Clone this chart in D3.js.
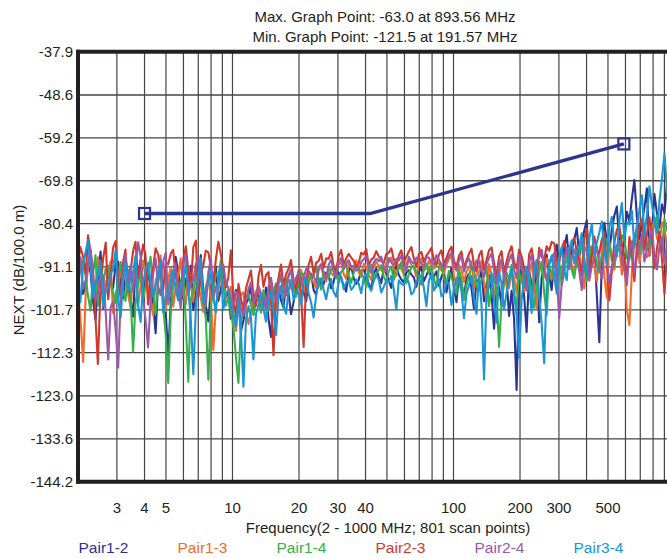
<!DOCTYPE html>
<html>
<head>
<meta charset="utf-8">
<script src="https://d3js.org/d3.v7.min.js"></script>
<style>
  html, body { margin: 0; padding: 0; background: #fff; }
  svg { display: block; font-family: "Liberation Sans", Arial, sans-serif; }
</style>
</head>
<body>
<svg id="chart" width="667" height="558"></svg>
<script>
// scan frequencies (MHz)
var freqMHz = [
  2.00, 2.05, 2.11, 2.17, 2.22, 2.28, 2.34, 2.40, 2.46, 2.53, 2.60, 2.67, 2.74, 2.81, 2.88, 2.96, 3.04, 3.12, 3.20, 3.28,
  3.37, 3.46, 3.55, 3.64, 3.74, 3.84, 3.94, 4.04, 4.15, 4.26, 4.38, 4.49, 4.61, 4.73, 4.86, 4.99, 5.12, 5.26, 5.39, 5.53,
  5.68, 5.83, 5.99, 6.15, 6.31, 6.48, 6.65, 6.83, 7.00, 7.19, 7.38, 7.57, 7.78, 7.99, 8.19, 8.41, 8.63, 8.86, 9.09, 9.33,
  9.58, 9.83, 10.10, 10.37, 10.64, 10.92, 11.21, 11.51, 11.81, 12.12, 12.44, 12.77, 13.11, 13.46, 13.81, 14.18, 14.55, 14.94, 15.33, 15.74,
  16.15, 16.58, 17.02, 17.47, 17.93, 18.40, 18.90, 19.40, 19.91, 20.44, 20.98, 21.54, 22.10, 22.68, 23.29, 23.91, 24.53, 25.18, 25.85, 26.53,
  27.23, 27.95, 28.69, 29.45, 30.23, 31.03, 31.85, 32.69, 33.56, 34.45, 35.36, 36.30, 37.25, 38.24, 39.25, 40.29, 41.35, 42.44, 43.57, 44.72,
  45.91, 47.12, 48.37, 49.65, 50.96, 52.31, 53.70, 55.12, 56.58, 58.08, 59.61, 61.19, 62.81, 64.47, 66.17, 67.92, 69.72, 71.56, 73.46, 75.40,
  77.40, 79.45, 81.55, 83.71, 85.92, 88.19, 90.53, 92.93, 95.38, 97.90, 100.47, 103.13, 105.86, 108.66, 111.53, 114.48, 117.51, 120.62, 123.81, 127.09,
  130.45, 133.90, 137.45, 141.09, 144.82, 148.65, 152.58, 156.62, 160.76, 165.01, 169.38, 173.86, 178.47, 183.19, 188.04, 193.02, 198.12, 203.36, 208.74, 214.26,
  219.94, 225.76, 231.73, 237.86, 244.16, 250.62, 257.25, 264.06, 271.04, 278.21, 285.58, 293.14, 300.89, 308.85, 317.02, 325.41, 334.02, 342.86, 351.93, 361.24,
  370.7, 380.5, 390.6, 400.9, 411.5, 422.4, 433.6, 445.1, 456.9, 469.0, 481.4, 494.1, 507.2, 520.6, 534.4, 548.5, 563.0, 577.9, 593.2, 608.9,
  625.0, 641.5, 658.5, 675.9, 693.8, 712.2, 731.0, 750.3, 770.2, 790.6, 811.5, 833.0, 855.1, 877.7, 901.0, 924.8, 949.2, 974.3, 1000.0
];

var pair12 = [
  -93.5, -88.9, -97.8, -95.1, -90.2, -92.6, -99.6, -104.2, -94.1, -87.3, -101.3, -96.0, -92.7, -94.8, -96.4, -90.5, -89.8, -95.7, -98.9, -93.2,
  -95.2, -99.0, -103.4, -91.8, -93.0, -89.4, -97.7, -93.6, -91.6, -96.9, -100.2, -107.5, -94.8, -90.7, -98.3, -102.6, -113.0, -99.4, -95.5, -88.6,
  -92.4, -96.3, -99.1, -94.0, -96.0, -90.8, -101.8, -97.5, -93.7, -88.2, -97.2, -100.6, -104.6, -95.9, -94.3, -91.0, -99.5, -96.7, -92.9, -98.4,
  -97.6, -103.9, -101.5, -96.8, -98.2, -107.1, -104.3, -100.2, -99.0, -95.6, -102.7, -98.6, -97.4, -101.9, -100.9, -96.2, -103.8, -108.4, -98.1, -95.3,
  -96.7, -99.3, -101.2, -94.9, -97.5, -102.8, -99.8, -96.1, -95.9, -93.2, -97.3, -99.6, -94.6, -92.8, -96.8, -98.0, -93.9, -95.7, -95.4, -92.5,
  -93.1, -96.4, -94.8, -91.9, -92.6, -94.0, -95.7, -97.2, -92.2, -90.9, -93.9, -95.3, -94.3, -92.0, -91.8, -93.4, -95.2, -96.6, -92.7, -91.5,
  -93.6, -95.1, -91.4, -92.8, -94.5, -96.3, -92.3, -90.8, -93.1, -94.2, -95.0, -92.5, -91.9, -93.0, -93.7, -96.0, -92.4, -91.1, -94.6, -93.2,
  -91.7, -94.0, -93.5, -92.2, -95.8, -93.6, -92.1, -97.4, -94.4, -91.3, -96.2, -99.8, -93.3, -95.1, -98.7, -93.9, -92.8, -96.4, -101.5, -94.5,
  -94.2, -92.0, -99.6, -95.3, -93.1, -97.8, -106.4, -96.5, -95.8, -100.9, -92.6, -94.1, -103.2, -97.0, -104.0, -121.5, -94.7, -91.6, -98.3, -107.2,
  -92.1, -95.4, -96.9, -90.2, -104.8, -93.7, -90.5, -88.1, -93.4, -96.8, -88.7, -85.6, -91.2, -94.0, -86.4, -83.2, -89.9, -87.0, -84.3, -81.5,
  -88.6, -85.0, -82.1, -79.6, -92.7, -88.4, -86.5, -98.0, -109.7, -90.3, -80.2, -84.7, -87.3, -81.9, -78.4, -76.2, -85.6, -90.8, -83.1, -77.5,
  -79.8, -74.3, -69.6, -78.8, -84.2, -80.1, -76.5, -71.7, -88.3, -82.0, -73.1, -78.0, -81.4, -75.6, -77.9, -70.4, -72.6, -76.9, -80.5
];
var pair13 = [
  -96.8, -103.5, -114.6, -97.0, -91.2, -86.9, -94.6, -98.2, -88.7, -92.4, -99.3, -95.0, -93.1, -89.7, -102.4, -97.6, -95.7, -91.9, -90.3, -94.3,
  -97.9, -101.2, -93.4, -90.0, -100.6, -95.8, -89.5, -93.1, -96.2, -99.0, -103.1, -94.4, -92.8, -88.3, -98.6, -102.0, -94.0, -91.3, -100.9, -96.5,
  -93.3, -89.0, -97.5, -100.3, -91.0, -94.9, -99.7, -92.1, -95.4, -98.8, -102.2, -96.0, -93.8, -99.3, -111.6, -101.0, -97.1, -93.0, -94.5, -98.1,
  -99.2, -96.0, -103.6, -106.9, -100.1, -98.0, -97.4, -101.8, -105.2, -102.5, -99.8, -97.1, -96.5, -99.9, -101.3, -104.1, -97.9, -95.6, -99.4, -101.9,
  -95.6, -97.4, -98.7, -93.9, -94.2, -96.5, -97.0, -95.2, -93.5, -91.8, -95.8, -97.6, -92.7, -93.9, -94.9, -96.3, -92.0, -90.9, -93.6, -94.7,
  -91.4, -92.6, -93.2, -90.8, -90.6, -89.7, -92.9, -94.0, -90.1, -91.3, -91.8, -89.5, -92.5, -93.6, -90.3, -91.0, -93.0, -94.3, -91.1, -89.9,
  -90.8, -91.9, -92.4, -90.1, -89.9, -88.8, -91.6, -93.2, -90.5, -91.7, -92.8, -90.0, -89.4, -90.6, -91.3, -93.5, -90.2, -89.0, -92.0, -91.4,
  -89.6, -90.9, -91.5, -89.8, -90.3, -92.0, -92.7, -90.5, -89.1, -88.4, -93.4, -95.7, -90.6, -91.9, -94.8, -92.2, -91.2, -89.7, -96.5, -93.1,
  -92.3, -89.6, -95.1, -99.8, -90.4, -92.9, -98.7, -94.6, -93.0, -90.1, -91.5, -95.9, -96.3, -92.0, -93.8, -97.6, -90.9, -89.2, -97.2, -94.0,
  -92.6, -90.0, -95.4, -101.5, -89.8, -91.6, -93.7, -88.9, -91.0, -94.2, -87.9, -90.5, -94.6, -92.0, -89.3, -86.8, -86.5, -90.7, -92.8, -88.2,
  -88.1, -92.5, -96.4, -89.0, -85.7, -87.9, -90.2, -94.8, -87.4, -84.6, -93.5, -98.7, -84.9, -88.3, -91.8, -86.0, -86.2, -93.0, -89.4, -101.8,
  -105.5, -92.4, -84.6, -80.8, -90.1, -86.2, -82.3, -88.7, -87.8, -81.4, -79.5, -84.0, -85.2, -80.1, -81.7, -86.5, -76.8, -79.9, -83.4
];
var pair14 = [
  -94.1, -91.0, -89.6, -93.8, -98.3, -101.9, -92.5, -88.2, -100.7, -97.3, -95.2, -91.5, -90.8, -94.4, -97.4, -100.1, -93.6, -89.9, -96.9, -99.5,
  -91.8, -98.4, -112.0, -100.5, -95.5, -92.1, -99.2, -96.0, -92.4, -88.6, -97.8, -102.7, -94.3, -91.2, -101.0, -108.0, -119.8, -102.3, -95.0, -91.4,
  -98.5, -94.7, -93.0, -104.8, -119.5, -99.2, -96.6, -93.3, -91.7, -95.1, -99.9, -103.6, -119.0, -100.4, -97.3, -92.8, -93.4, -89.5, -95.8, -100.7,
  -98.7, -102.0, -106.1, -113.5, -119.8, -104.9, -101.4, -98.8, -97.6, -100.5, -103.0, -99.0, -99.5, -102.4, -96.8, -99.7, -101.9, -97.2, -98.0, -95.3,
  -95.3, -93.8, -97.9, -95.0, -93.6, -91.9, -96.4, -98.5, -94.8, -92.6, -92.9, -95.7, -95.1, -93.0, -93.3, -91.2, -94.5, -96.7, -92.4, -93.5,
  -93.8, -91.6, -92.1, -93.9, -94.0, -92.3, -91.7, -90.4, -93.2, -95.0, -92.6, -90.9, -91.4, -92.8, -93.7, -96.1, -92.0, -90.6, -94.1, -92.7,
  -91.9, -90.7, -93.5, -94.8, -92.2, -91.0, -94.3, -92.6, -91.6, -89.9, -93.0, -95.2, -92.8, -91.3, -90.9, -92.4, -93.6, -95.5, -91.5, -90.3,
  -92.7, -91.1, -94.0, -96.2, -91.3, -90.2, -93.8, -95.0, -92.1, -93.7, -95.5, -97.9, -91.8, -94.3, -99.3, -95.6, -93.4, -90.8, -92.0, -96.0,
  -96.8, -94.2, -93.5, -91.0, -100.8, -96.4, -92.9, -98.1, -110.9, -99.7, -95.4, -92.5, -94.1, -90.6, -97.6, -101.3, -92.3, -94.8, -95.9, -91.7,
  -93.0, -97.4, -101.2, -95.5, -92.4, -89.8, -97.5, -103.0, -90.8, -92.7, -94.3, -91.0, -89.7, -95.8, -92.6, -88.5, -88.1, -91.9, -93.9, -89.4,
  -87.6, -85.2, -91.4, -94.6, -89.2, -86.0, -86.9, -90.3, -92.5, -87.8, -88.0, -84.1, -85.3, -89.6, -90.7, -86.4, -87.1, -83.3, -84.5, -88.9,
  -89.3, -85.7, -83.6, -81.9, -87.9, -84.3, -81.2, -85.5, -86.4, -82.6, -80.7, -78.4, -84.8, -87.2, -79.3, -82.1, -83.0, -80.2, -78.6
];
var pair23 = [
  -90.5, -86.2, -88.6, -92.9, -83.3, -87.5, -92.3, -103.8, -115.1, -96.0, -88.9, -85.1, -99.1, -93.4, -86.4, -84.7, -94.7, -98.6, -89.9, -86.8,
  -97.3, -92.0, -87.2, -84.9, -93.8, -89.6, -85.6, -88.1, -100.4, -95.2, -91.1, -86.5, -88.0, -92.7, -96.7, -90.0, -90.4, -87.8, -86.9, -93.5,
  -94.9, -99.8, -89.3, -86.0, -92.0, -96.1, -86.2, -84.6, -98.4, -93.0, -90.7, -87.1, -87.5, -91.4, -95.3, -89.2, -84.9, -88.0, -91.6, -96.2,
  -93.7, -87.0, -98.9, -103.5, -95.3, -99.0, -101.6, -96.4, -94.2, -92.0, -97.8, -100.7, -93.5, -90.6, -96.0, -93.1, -92.4, -99.6, -112.9, -97.2,
  -93.8, -90.5, -95.7, -92.9, -91.6, -89.4, -94.4, -96.8, -92.0, -97.5, -110.9, -95.0, -90.7, -88.6, -92.8, -90.1, -89.6, -87.9, -91.3, -89.0,
  -89.1, -87.4, -90.9, -92.1, -88.3, -86.9, -90.4, -89.0, -87.9, -88.8, -89.6, -91.2, -90.2, -87.6, -88.0, -86.7, -90.7, -89.3, -88.8, -87.2,
  -88.5, -89.7, -90.1, -87.9, -87.6, -86.5, -89.3, -90.8, -88.2, -87.0, -90.0, -88.6, -87.3, -86.2, -89.1, -91.0, -88.0, -87.4, -89.8, -88.3,
  -87.5, -86.4, -89.4, -90.6, -88.1, -87.0, -90.3, -88.9, -87.2, -86.1, -89.6, -91.0, -88.4, -87.3, -91.2, -89.5, -87.9, -86.6, -90.5, -92.3,
  -88.3, -87.1, -91.7, -89.4, -87.0, -86.3, -90.1, -93.5, -88.6, -87.2, -92.4, -89.8, -87.5, -86.0, -89.9, -91.6, -86.8, -88.5, -91.3, -96.2,
  -88.0, -86.5, -90.6, -94.1, -86.4, -88.7, -89.2, -86.0, -87.1, -84.9, -85.3, -89.4, -90.0, -86.6, -84.7, -87.8, -88.6, -85.2, -83.9, -87.4,
  -89.5, -93.2, -84.2, -81.6, -91.8, -88.0, -83.6, -86.9, -87.7, -84.4, -82.5, -90.6, -99.4, -92.3, -85.1, -81.9, -80.9, -85.7, -88.3, -94.1,
  -83.7, -88.2, -94.6, -86.0, -81.2, -79.4, -86.8, -83.0, -78.9, -84.5, -91.5, -86.6, -82.4, -89.3, -97.8, -88.0, -80.3, -76.5, -85.6
];
var pair24 = [
  -92.8, -88.7, -96.5, -94.2, -90.4, -86.8, -93.1, -99.3, -97.9, -92.0, -93.4, -102.5, -114.0, -101.1, -99.7, -106.5, -116.0, -98.4, -91.5, -88.1,
  -94.6, -90.8, -97.2, -91.4, -85.0, -88.5, -98.8, -104.0, -111.0, -99.5, -92.7, -89.0, -95.9, -98.1, -89.8, -87.6, -100.3, -96.2, -93.2, -90.2,
  -96.8, -101.4, -90.9, -87.9, -98.1, -95.0, -94.5, -90.3, -89.2, -93.7, -97.6, -100.8, -92.4, -88.9, -99.0, -96.1, -95.1, -91.8, -90.6, -94.9,
  -96.4, -99.2, -100.7, -97.3, -97.9, -101.4, -103.2, -99.5, -96.6, -94.9, -100.1, -98.3, -95.8, -97.7, -98.7, -101.6, -96.0, -93.8, -97.5, -99.6,
  -94.7, -92.9, -96.8, -98.2, -93.1, -91.7, -95.5, -93.8, -92.6, -94.9, -94.0, -91.6, -91.9, -93.2, -93.4, -95.0, -91.2, -90.4, -92.5, -94.1,
  -90.6, -89.3, -92.2, -93.4, -89.8, -88.9, -91.5, -90.2, -89.4, -91.1, -90.8, -92.0, -91.7, -89.9, -89.2, -88.4, -91.3, -92.6, -90.0, -89.1,
  -89.7, -88.6, -91.2, -92.3, -88.9, -90.0, -90.6, -89.1, -89.5, -88.3, -91.0, -92.1, -88.6, -89.8, -90.3, -88.8, -89.1, -90.5, -90.9, -88.7,
  -88.8, -89.9, -90.5, -88.2, -89.3, -90.7, -91.4, -89.6, -88.5, -87.6, -90.9, -92.0, -89.6, -88.4, -92.3, -90.1, -89.0, -91.2, -91.8, -89.5,
  -89.7, -91.9, -93.5, -90.4, -88.9, -87.8, -92.0, -95.4, -90.6, -89.2, -94.3, -91.5, -89.4, -88.0, -91.8, -93.9, -88.2, -90.6, -93.6, -97.0,
  -89.9, -88.1, -92.8, -90.2, -88.6, -86.9, -91.3, -94.6, -90.0, -88.7, -87.7, -93.0, -103.8, -95.1, -88.9, -86.4, -91.6, -89.0, -86.8, -88.9,
  -92.1, -96.8, -87.4, -85.9, -94.5, -90.9, -88.8, -86.0, -90.7, -93.8, -86.3, -89.4, -95.2, -91.0, -89.1, -85.8, -84.7, -88.5, -91.9, -95.6,
  -87.0, -84.8, -92.6, -88.7, -85.5, -83.2, -89.8, -86.9, -83.9, -81.6, -88.4, -91.7, -86.1, -83.8, -90.2, -85.4, -82.7, -80.9, -87.5
];
var pair34 = [
  -95.5, -99.8, -90.7, -87.1, -84.6, -91.3, -98.4, -95.0, -93.2, -89.5, -101.0, -97.2, -96.3, -92.8, -91.9, -86.9, -99.1, -103.5, -94.4, -90.0,
  -97.0, -93.6, -92.6, -88.4, -100.5, -104.7, -95.3, -92.0, -90.1, -94.9, -98.2, -95.6, -93.7, -89.3, -102.4, -99.0, -97.5, -93.4, -91.8, -96.5,
  -99.4, -95.9, -94.6, -90.6, -96.9, -104.3, -117.6, -101.2, -92.5, -89.0, -100.2, -96.6, -95.0, -91.7, -98.6, -102.3, -94.1, -90.8, -101.7, -97.9,
  -96.8, -100.3, -102.9, -105.8, -99.3, -107.4, -120.7, -104.1, -100.8, -103.6, -114.0, -102.8, -100.4, -97.9, -101.3, -104.6, -99.6, -97.1, -102.1, -107.9,
  -98.4, -95.8, -100.6, -102.7, -96.9, -94.3, -99.2, -97.0, -97.8, -100.4, -95.4, -93.6, -97.6, -99.9, -103.6, -98.2, -95.0, -93.9, -96.7, -99.1,
  -95.8, -94.1, -97.3, -98.5, -94.9, -93.4, -96.6, -95.0, -94.5, -96.8, -96.0, -94.2, -95.2, -97.6, -93.8, -92.9, -95.9, -97.0, -94.6, -93.1,
  -94.2, -97.4, -96.0, -94.5, -94.8, -93.3, -96.7, -101.6, -94.4, -95.3, -95.6, -93.8, -95.0, -97.9, -97.2, -94.7, -94.0, -93.1, -96.3, -100.8,
  -94.5, -93.0, -96.9, -95.7, -94.1, -98.4, -97.6, -94.8, -95.3, -100.5, -96.5, -93.9, -94.2, -97.1, -103.8, -97.8, -95.6, -93.3, -99.1, -102.7,
  -93.2, -100.6, -118.9, -98.0, -95.8, -92.7, -99.5, -104.9, -92.4, -95.3, -101.7, -97.4, -94.6, -91.8, -97.9, -103.0, -113.6, -99.2, -93.8, -91.1,
  -96.1, -102.5, -91.5, -89.4, -98.4, -105.2, -114.9, -96.0, -90.7, -88.3, -93.3, -97.7, -88.5, -86.2, -91.9, -94.4, -86.7, -84.5, -90.2, -87.3,
  -85.9, -82.8, -89.6, -93.1, -84.1, -80.5, -88.0, -85.1, -82.6, -79.9, -86.9, -90.4, -81.3, -78.7, -85.4, -88.6, -79.8, -75.3, -84.2, -80.0,
  -80.6, -77.2, -86.3, -81.8, -76.9, -73.4, -83.5, -78.1, -71.2, -75.8, -79.4, -82.7, -74.8, -69.3, -63.0, -72.5, -77.1, -70.6, -66.5
];

var seriesNames = ["Pair1-2", "Pair1-3", "Pair1-4", "Pair2-3", "Pair2-4", "Pair3-4"];
var seriesValues = [pair12, pair13, pair14, pair23, pair24, pair34];
var seriesColors = ["#2b3590", "#f26a2e", "#36b04a", "#d0382c", "#9b59a8", "#1a96d4"];

// limit line (start and end carry square markers)
var limitFreq = [4, 42, 590];
var limitVal = [-77.9, -77.9, -60.7];

var yTickLabels = ["-37.9", "-48.6", "-59.2", "-69.8", "-80.4", "-91.1",
                   "-101.7", "-112.3", "-123.0", "-133.6", "-144.2"];
var xTickLabels = [3, 4, 5, 10, 20, 30, 40, 100, 200, 300, 500];

var titleLines = ["Max. Graph Point: -63.0 at 893.56 MHz",
                  "Min. Graph Point: -121.5 at 191.57 MHz"];

var svg = d3.select("#chart");

var plotL = 78, plotR = 674.5, plotT = 51.7, plotB = 481.7;

var x = d3.scaleLog().domain([2, 1000]).range([plotL, plotR]);
var y = d3.scaleLinear().domain([-144.2, -37.9]).range([plotB, plotT]);

// titles
svg.selectAll("text.title")
  .data(titleLines)
  .enter().append("text")
  .attr("class", "title")
  .attr("x", 385)
  .attr("y", function(d, i){ return 22 + i * 20; })
  .attr("text-anchor", "middle")
  .attr("font-size", 15)
  .attr("fill", "#231f20")
  .text(function(d){ return d; });

// grid
var grid = svg.append("g");
grid.selectAll("line.v")
  .data(x.ticks().filter(function(d){ return d > 2 && d < 1000; }))
  .enter().append("line")
  .attr("x1", function(d){ return x(d); })
  .attr("x2", function(d){ return x(d); })
  .attr("y1", plotT).attr("y2", plotB)
  .attr("stroke", "#444")
  .attr("stroke-width", 1.2);

grid.selectAll("line.h")
  .data(yTickLabels.slice(1, -1))
  .enter().append("line")
  .attr("x1", plotL).attr("x2", plotR)
  .attr("y1", function(d){ return y(+d); })
  .attr("y2", function(d){ return y(+d); })
  .attr("stroke", "#444")
  .attr("stroke-width", 1.3);

// data
svg.append("clipPath").attr("id", "plotclip")
  .append("rect")
  .attr("x", plotL).attr("y", plotT)
  .attr("width", plotR - plotL).attr("height", plotB - plotT);

var line = d3.line()
  .defined(function(d, i){ return i < freqMHz.length; })
  .x(function(d, i){ return x(freqMHz[i]); })
  .y(function(d){ return y(d); });

svg.append("g").attr("clip-path", "url(#plotclip)")
  .selectAll("path")
  .data(seriesValues)
  .enter().append("path")
  .attr("d", line)
  .attr("fill", "none")
  .attr("stroke", function(d, i){ return seriesColors[i]; })
  .attr("stroke-width", 2.1)
  .attr("stroke-linejoin", "round");

// limit line
var limitLine = d3.line()
  .x(function(d, i){ return x(limitFreq[i]); })
  .y(function(d){ return y(d); });

svg.append("path")
  .attr("d", limitLine(limitVal))
  .attr("fill", "none")
  .attr("stroke", "#2b3590")
  .attr("stroke-width", 3.3);

svg.selectAll("rect.marker")
  .data([0, limitVal.length - 1])
  .enter().append("rect")
  .attr("class", "marker")
  .attr("x", function(i){ return x(limitFreq[i]) - 5.5; })
  .attr("y", function(i){ return y(limitVal[i]) - 5.5; })
  .attr("width", 11).attr("height", 11)
  .attr("fill", "none")
  .attr("stroke", "#2b3590")
  .attr("stroke-width", 2.2);

// frame
var frame = svg.append("g").attr("stroke", "#231f20").attr("stroke-width", 4);
frame.append("line").attr("x1", plotL).attr("x2", plotL).attr("y1", plotT - 2).attr("y2", plotB + 2);
frame.append("line").attr("x1", plotL - 2).attr("x2", plotR).attr("y1", plotT).attr("y2", plotT);
frame.append("line").attr("x1", plotL - 2).attr("x2", plotR).attr("y1", plotB).attr("y2", plotB);
frame.append("line").attr("x1", plotR).attr("x2", plotR).attr("y1", plotT).attr("y2", plotB);

// y tick labels
svg.selectAll("text.ytick")
  .data(yTickLabels)
  .enter().append("text")
  .attr("class", "ytick")
  .attr("x", 73)
  .attr("y", function(d){ return y(+d) + 5; })
  .attr("text-anchor", "end")
  .attr("font-size", 15)
  .attr("fill", "#231f20")
  .text(function(d){ return d; });

// x tick labels
svg.selectAll("text.xtick")
  .data(xTickLabels)
  .enter().append("text")
  .attr("class", "xtick")
  .attr("x", function(d){ return x(d); })
  .attr("y", 513)
  .attr("text-anchor", "middle")
  .attr("font-size", 15)
  .attr("fill", "#231f20")
  .text(function(d){ return d; });

// axis titles
svg.append("text")
  .attr("x", 388).attr("y", 533)
  .attr("text-anchor", "middle")
  .attr("font-size", 15)
  .attr("fill", "#231f20")
  .text("Frequency(2 - 1000 MHz; 801 scan points)");

svg.append("text")
  .attr("transform", "translate(24,270) rotate(-90)")
  .attr("text-anchor", "middle")
  .attr("font-size", 15)
  .attr("fill", "#231f20")
  .text("NEXT (dB/100.0 m)");

// legend
svg.selectAll("text.legend")
  .data(seriesNames)
  .enter().append("text")
  .attr("class", "legend")
  .attr("x", function(d, i){ return 78.5 + i * 99; })
  .attr("y", 553)
  .attr("font-size", 15.5)
  .attr("fill", function(d, i){ return seriesColors[i]; })
  .text(function(d){ return d; });
</script>
</body>
</html>
